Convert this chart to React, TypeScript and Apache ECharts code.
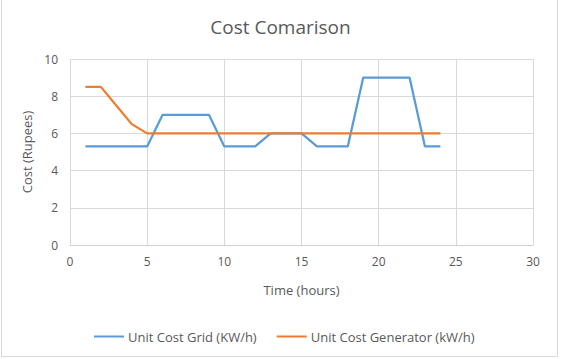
import React, { useEffect, useRef } from "react";
import * as echarts from "echarts";

const hours = [1, 2, 3, 4, 5, 6, 7, 8, 9, 10, 11, 12, 13, 14, 15, 16, 17, 18, 19, 20, 21, 22, 23, 24];
const gridCost = [5.3, 5.3, 5.3, 5.3, 5.3, 7, 7, 7, 7, 5.3, 5.3, 5.3, 6, 6, 6, 5.3, 5.3, 5.3, 9, 9, 9, 9, 5.3, 5.3];
const generatorCost = [8.5, 8.5, 7.5, 6.5, 6, 6, 6, 6, 6, 6, 6, 6, 6, 6, 6, 6, 6, 6, 6, 6, 6, 6, 6, 6];
const seriesNames = ["Unit Cost Grid (KW/h)", "Unit Cost Generator (kW/h)"];

const FONT = "Open Sans";
const TXT = "#595959";

export default function App() {
  const ref = useRef<HTMLDivElement>(null);
  useEffect(() => {
    if (!ref.current) return;
    const chart = echarts.init(ref.current, undefined, { renderer: "svg" });
    chart.setOption({
      animation: false,
      backgroundColor: "#ffffff",
      textStyle: { fontFamily: FONT, color: TXT },
      title: {
        text: "Cost Comarison",
        left: "center",
        top: 12,
        textStyle: { fontFamily: FONT, fontSize: 19, fontWeight: "normal", color: TXT },
      },
      grid: { left: 70, right: 28, top: 59, bottom: 114, containLabel: false },
      xAxis: {
        type: "value",
        min: 0,
        max: 30,
        interval: 5,
        name: "Time (hours)",
        nameLocation: "middle",
        nameGap: 38,
        nameTextStyle: { fontFamily: FONT, fontSize: 13, color: TXT },
        axisLine: { show: true, lineStyle: { color: "#D0D0D0" } },
        axisTick: { show: false },
        axisLabel: { fontFamily: FONT, fontSize: 12, color: TXT, margin: 10 },
        splitLine: { show: true, lineStyle: { color: "#D9D9D9" } },
      },
      yAxis: {
        type: "value",
        min: 0,
        max: 10,
        interval: 2,
        name: "Cost (Rupees)",
        nameLocation: "middle",
        nameGap: 33,
        nameTextStyle: { fontFamily: FONT, fontSize: 13, color: TXT },
        axisLine: { show: false },
        axisTick: { show: false },
        axisLabel: { fontFamily: FONT, fontSize: 12, color: TXT, margin: 12 },
        splitLine: { show: true, lineStyle: { color: "#D9D9D9" } },
      },
      legend: {
        left: 89,
        top: 325,
        icon: "rect",
        itemWidth: 30,
        itemHeight: 2,
        itemGap: 20,
        textStyle: { fontFamily: FONT, fontSize: 13, color: TXT, padding: [0, 0, 0, -1] },
        data: seriesNames,
      },
      series: [
        {
          name: seriesNames[0],
          type: "line",
          data: hours.map((h, i) => [h, gridCost[i]]),
          symbol: "none",
          lineStyle: { color: "#5B9BD5", width: 2.25 },
          itemStyle: { color: "#5B9BD5" },
        },
        {
          name: seriesNames[1],
          type: "line",
          data: hours.map((h, i) => [h, generatorCost[i]]),
          symbol: "none",
          lineStyle: { color: "#ED7D31", width: 2.25 },
          itemStyle: { color: "#ED7D31" },
        },
      ],
    });
    return () => chart.dispose();
  }, []);
  return (
    <div
      style={{
        position: "absolute",
        left: 0,
        top: 0,
        width: 561,
        height: 359,
        boxSizing: "border-box",
        background: "#fff",
      }}
    >
      <div ref={ref} style={{ position: "absolute", left: 0, top: 0, width: 561, height: 359 }} />
      <div
        style={{
          position: "absolute",
          left: 1,
          top: -2,
          width: 557,
          height: 359,
          border: "1px solid #D9D9D9",
          boxSizing: "border-box",
          pointerEvents: "none",
        }}
      />
    </div>
  );
}
